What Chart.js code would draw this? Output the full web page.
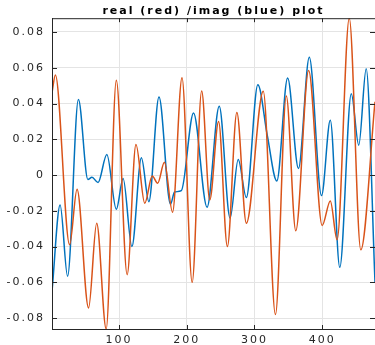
<!DOCTYPE html>
<html>
<head>
<meta charset="utf-8">
<script src="https://cdn.jsdelivr.net/npm/chart.js@4/dist/chart.umd.min.js"></script>
<style>
html,body{margin:0;padding:0;background:#fff;}
#c{display:block;}
</style>
</head>
<body>
<canvas id="c" width="375" height="345"></canvas>
<script>
const titleText = 'real (red) /imag (blue) plot';

const redX = [1, 6, 27, 38, 55, 67, 81, 96, 112, 125, 138, 149, 157, 167, 179, 193, 208, 222, 234, 247, 260, 274, 288, 313, 331, 347, 361, 380, 400, 412, 422, 440, 457, 478];
const redY = [0.046, 0.056, -0.039, -0.008, -0.0743, -0.027, -0.0861, 0.053, -0.0557, 0.0171, -0.0158, -0.0006, -0.0046, 0.0071, -0.0208, 0.0544, -0.060, 0.047, -0.0139, 0.030, -0.040, 0.0349, -0.0269, 0.0468, -0.078, 0.0442, -0.0312, 0.0585, -0.0282, -0.0145, -0.0362, 0.0877, -0.0418, 0.041];

const blueX = [1, 13, 24, 40, 54, 60, 69, 82, 96, 106, 119, 133, 144, 159, 176, 182, 192, 210, 230, 248, 264, 276, 288, 305, 319, 333, 349, 365, 381, 399, 412, 426, 443, 454, 465, 478];
const blueY = [-0.065, -0.0167, -0.0566, 0.0422, -0.0025, -0.0012, -0.0042, 0.0115, -0.0191, -0.0019, -0.040, 0.0097, -0.0149, 0.0436, -0.0163, -0.0095, -0.0087, 0.0347, -0.018, 0.0384, -0.0241, 0.0087, -0.0126, 0.0505, 0.022, -0.0033, 0.0542, 0.0037, 0.0659, -0.0115, 0.0306, -0.0516, 0.0455, 0.0167, 0.0594, -0.060];

const xTicks = [100, 200, 300, 400];
const xTickLabels = ['100', '200', '300', '400'];
const yTicks = [-0.08, -0.06, -0.04, -0.02, 0, 0.02, 0.04, 0.06, 0.08];
const yTickLabels = ['-0.08', '-0.06', '-0.04', '-0.02', '0', '0.02', '0.04', '0.06', '0.08'];

const xMin = 1, xMax = 478;
const yMin = -0.0861, yMax = 0.0877;

const redColor = '#D95319';
const blueColor = '#0072BD';
const axisColor = '#262626';
const gridColor = '#e4e4e4';

const toPts = (xs, ys) => xs.map((x, i) => ({x: x, y: ys[i]}));

const matlabBox = {
  id: 'matlabBox',
  beforeDraw(chart) {
    chart.ctx.letterSpacing = '2px';
  },
  afterDatasetsDraw(chart) {
    const ctx = chart.ctx;
    const a = chart.chartArea;
    const xs = chart.scales.x, ys = chart.scales.y;
    ctx.save();
    ctx.letterSpacing = '0px';
    ctx.strokeStyle = axisColor;
    ctx.lineWidth = 1;
    ctx.beginPath();
    // box
    ctx.moveTo(a.left + 0.5, a.top + 0.5);
    ctx.lineTo(a.right, a.top + 0.5);
    ctx.moveTo(a.left + 0.5, a.top);
    ctx.lineTo(a.left + 0.5, a.bottom + 0.5);
    ctx.lineTo(a.right, a.bottom + 0.5);
    // inward ticks
    xTicks.forEach(v => {
      const px = Math.round(xs.getPixelForValue(v)) + 0.5;
      ctx.moveTo(px, a.bottom);
      ctx.lineTo(px, a.bottom - 4);
      ctx.moveTo(px, a.top);
      ctx.lineTo(px, a.top + 4);
    });
    yTicks.forEach(v => {
      const py = Math.round(ys.getPixelForValue(v)) + 0.5;
      ctx.moveTo(a.left, py);
      ctx.lineTo(a.left + 5, py);
      ctx.moveTo(a.right, py);
      ctx.lineTo(a.right - 5, py);
    });
    ctx.stroke();
    ctx.restore();
  }
};

new Chart(document.getElementById('c'), {
  type: 'line',
  data: {
    datasets: [
      {
        label: 'real',
        data: toPts(redX, redY),
        borderColor: redColor,
        backgroundColor: redColor,
        borderWidth: 1.5,
        pointRadius: 0,
        cubicInterpolationMode: 'monotone',
        fill: false
      },
      {
        label: 'imag',
        data: toPts(blueX, blueY),
        borderColor: blueColor,
        backgroundColor: blueColor,
        borderWidth: 1.5,
        pointRadius: 0,
        cubicInterpolationMode: 'monotone',
        fill: false
      }
    ]
  },
  options: {
    responsive: false,
    animation: false,
    layout: {padding: {left: 0, right: 0, top: 0, bottom: 0}},
    plugins: {
      legend: {display: false},
      tooltip: {enabled: false},
      title: {
        display: true,
        text: titleText,
        fullSize: false,
        color: '#000',
        font: {family: 'DejaVu Sans', size: 11, weight: 'bold', lineHeight: 1.2},
        padding: {top: 5, bottom: 0}
      }
    },
    scales: {
      x: {
        type: 'linear',
        min: xMin,
        max: xMax,
        afterBuildTicks: s => { s.ticks = xTicks.map(v => ({value: v})); },
        afterFit: s => { s.height = 16; },
        grid: {color: gridColor, drawTicks: false, lineWidth: 1},
        border: {display: true, color: axisColor, width: 1},
        ticks: {
          color: axisColor,
          padding: 5,
          maxRotation: 0,
          font: {family: 'DejaVu Sans', size: 11},
          callback: (v, i) => xTickLabels[i]
        }
      },
      y: {
        type: 'linear',
        min: yMin,
        max: yMax,
        afterBuildTicks: s => { s.ticks = yTicks.map(v => ({value: v})); },
        afterFit: s => { s.width = 52; },
        grid: {color: gridColor, drawTicks: false, lineWidth: 1},
        border: {display: true, color: axisColor, width: 1},
        ticks: {
          color: axisColor,
          padding: 7,
          font: {family: 'DejaVu Sans', size: 11},
          callback: (v, i) => yTickLabels[i]
        }
      }
    }
  },
  plugins: [matlabBox]
});
</script>
</body>
</html>
